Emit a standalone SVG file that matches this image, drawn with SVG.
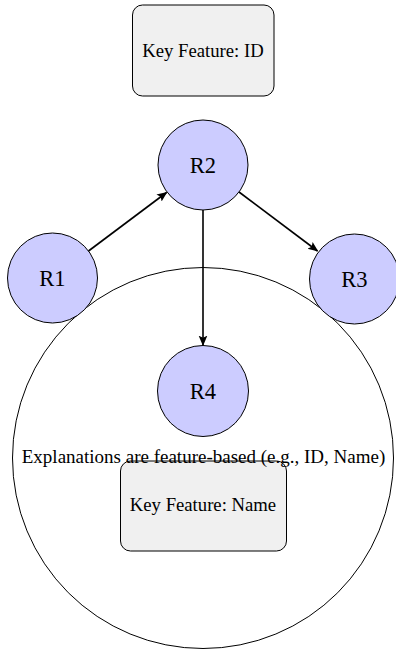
<svg xmlns="http://www.w3.org/2000/svg" width="396" height="651" viewBox="0 0 396 651">
<defs>
<style>
.bg{fill:#ffffff}
.node circle{fill:#ccccff;stroke:#000;stroke-width:1}
.box rect{fill:#f0f0f0;stroke:#000;stroke-width:1}
.lbl{font-family:"Liberation Serif","Times New Roman",serif;font-size:22.5px;fill:#000;text-anchor:middle}
.txt{font-family:"Liberation Serif","Times New Roman",serif;font-size:18.7px;fill:#000;text-anchor:middle}
.exp{font-family:"Liberation Serif","Times New Roman",serif;font-size:19px;fill:#000;text-anchor:middle}
.edge{stroke:#000;stroke-width:1.6;fill:none;marker-end:url(#arr)}
</style>
<marker id="arr" viewBox="0 0 10 10" refX="9" refY="5" markerWidth="6.5" markerHeight="6.5" orient="auto" markerUnits="strokeWidth">
<path d="M0,0.8 L10,5 L0,9.2 L2,5 Z" fill="#000"/>
</marker>
</defs>
<rect class="bg" x="0" y="0" width="396" height="651"/>
<g id="region">
<circle cx="203" cy="458" r="190.5" fill="none" stroke="#000" stroke-width="1"/>
</g>
<g id="boxID" class="box">
<rect x="132.5" y="5" width="141.5" height="91" rx="10" ry="10"/>
<text class="txt" x="203" y="56.5">Key Feature: ID</text>
</g>
<g id="boxName" class="box">
<rect x="120.5" y="461" width="166" height="90" rx="10" ry="10"/>
<text class="txt" x="203" y="511">Key Feature: Name</text>
</g>
<g id="explanation">
<text class="exp" x="203.5" y="463">Explanations are feature-based (e.g., ID, Name)</text>
</g>
<g id="R1" class="node">
<circle cx="52.5" cy="278" r="45"/>
<text class="lbl" x="52.5" y="286">R1</text>
</g>
<g id="R2" class="node">
<circle cx="203" cy="165" r="45"/>
<text class="lbl" x="203" y="173">R2</text>
</g>
<g id="R3" class="node">
<circle cx="354.5" cy="279" r="45"/>
<text class="lbl" x="354.5" y="287">R3</text>
</g>
<g id="R4" class="node">
<circle cx="203" cy="391" r="45.5"/>
<text class="lbl" x="203" y="399">R4</text>
</g>
<g id="connectors">
<line class="edge" x1="88.5" y1="251" x2="166.5" y2="192.5"/>
<line class="edge" x1="239" y1="192" x2="317.5" y2="251"/>
<line class="edge" x1="203" y1="210" x2="203" y2="345"/>
</g>
</svg>
